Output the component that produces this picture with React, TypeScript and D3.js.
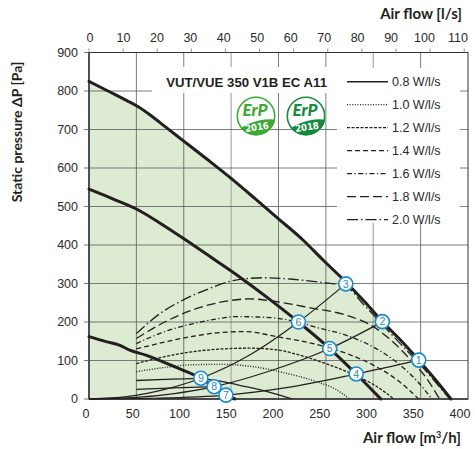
import React from "react";
import * as d3 from "d3";

type Pt = [number, number];

const flowTicks = [0, 50, 100, 150, 200, 250, 300, 350, 400];
const pressureTicks = [0, 100, 200, 300, 400, 500, 600, 700, 800, 900];
const lsTicks = [0, 10, 20, 30, 40, 50, 60, 70, 80, 90, 100, 110];

// fan curves (m3/h, Pa)
const maxCurve: Pt[] = [
  [0, 825], [20, 800], [40, 775], [52, 759], [66, 735], [80, 708], [101, 668],
  [125, 622], [150, 573], [175, 521], [200, 468], [225, 415], [247, 361],
  [271, 304], [290, 255], [310, 200], [330, 150], [348, 101], [365, 52], [382, 0],
];
const midCurve: Pt[] = [
  [0, 545], [25, 520], [52, 491], [73, 460], [101, 415], [133, 361], [160, 315],
  [190, 260], [221, 200], [254, 131], [282, 65], [308, 0],
];
const lowCurve: Pt[] = [
  [0, 162], [18, 149], [32, 140], [43, 127], [60, 114], [90, 84], [118, 54],
  [132, 32], [145, 10], [154, 0],
];

// system curves through the marked points
const systemA: Pt[] = [[0, 0], [40, 6], [80, 25], [118, 54], [170, 115], [221, 200], [271, 299]];
const systemB: Pt[] = [[0, 0], [50, 4], [90, 14], [132, 32], [190, 72], [254, 131], [310, 201]];
const systemC: Pt[] = [[0, 0], [70, 2], [145, 10], [210, 30], [282, 65], [348, 101]];

// specific fan power lines
const sfp08: Pt[] = [[50, 48], [80, 51], [110, 53], [135, 48], [160, 35], [190, 18], [215, 0]];
const sfp08b: Pt[] = [[50, 25], [90, 29], [132, 32]];
const sfp10: Pt[] = [[50, 71], [80, 82], [110, 89], [140, 90], [170, 85], [208, 67], [240, 45], [260, 26], [275, 0]];
const sfp12: Pt[] = [[50, 92], [80, 110], [110, 123], [140, 130], [170, 132], [200, 127], [225, 112], [250, 92], [275, 68], [300, 38], [322, 0]];
const sfp14: Pt[] = [[50, 130], [80, 148], [110, 163], [140, 173], [165, 175], [198, 162], [243, 140], [271, 119], [300, 88], [325, 50], [348, 0]];
const sfp16: Pt[] = [[50, 144], [80, 175], [110, 196], [135, 208], [155, 214], [178, 213], [201, 209], [221, 199], [243, 184], [271, 166], [300, 135], [325, 95], [345, 50], [362, 0]];
const sfp18: Pt[] = [[50, 157], [80, 200], [110, 232], [140, 252], [170, 260], [200, 252], [235, 236], [271, 218], [300, 188], [320, 150], [340, 100], [355, 58], [370, 0]];
const sfp20: Pt[] = [[50, 170], [75, 222], [100, 258], [125, 285], [155, 309], [185, 315], [215, 311], [245, 303], [270, 294], [290, 245], [310, 192], [330, 140], [350, 88], [365, 46], [378, 8], [381, 0]];

const sfpLabels = ["0.8 W/l/s", "1.0 W/l/s", "1.2 W/l/s", "1.4 W/l/s", "1.6 W/l/s", "1.8 W/l/s", "2.0 W/l/s"];
const sfpDashes = [null, "1,1.6", "3,1.5", "5,3", "5,2.5,1.2,2.5", "9,4", "11,3,1.5,3"];
const sfpLines = [sfp08, sfp10, sfp12, sfp14, sfp16, sfp18, sfp20];

const pointIds = [1, 2, 3, 4, 5, 6, 7, 8, 9];
const pointFlow = [348, 309.6, 271, 282, 254, 221, 144.5, 132, 118];
const pointPressure = [101, 201, 299, 65, 131, 200, 10, 32, 54];

const W = 475;
const H = 449;
const x = d3.scaleLinear().domain([0, 400]).range([89, 468]);
const y = d3.scaleLinear().domain([0, 900]).range([399, 52.5]);
const xls = d3.scaleLinear().domain([0, 400 / 3.6]).range([89, 468]);
const xLabel = d3.scaleLinear().domain([0, 400]).range([86, 460]);
const lsLabel = d3.scaleLinear().domain([0, 110]).range([90, 458]);

const FONT = "'Liberation Sans', Arial, sans-serif";
const BOLD = "Lato, 'Open Sans', sans-serif";
const INK = "#231f20";
const BLUE = "#1b8bd0";

const line = d3
  .line<Pt>()
  .x((d) => x(d[0]))
  .y((d) => y(d[1]))
  .curve(d3.curveMonotoneX);

const area = d3
  .area<Pt>()
  .x((d) => x(d[0]))
  .y0(y(0))
  .y1((d) => y(d[1]))
  .curve(d3.curveMonotoneX);

function ErpLogo({ cx, cy, year, color, id }: { cx: number; cy: number; year: string; color: string; id: string }) {
  return (
    <g>
      <clipPath id={id}>
        <circle cx={cx} cy={cy} r={19.5} />
      </clipPath>
      <circle cx={cx} cy={cy} r={19.5} fill="white" />
      <g clipPath={`url(#${id})`}>
        <ellipse cx={cx + 2} cy={cy + 19} rx={28} ry={14} fill={color} transform={`rotate(-12 ${cx} ${cy})`} />
      </g>
      <circle cx={cx} cy={cy} r={18.7} fill="none" stroke={color} strokeWidth={1.6} />
      <text x={cx - 1} y={cy} textAnchor="middle" fontFamily="Lato, sans-serif" fontWeight={900} fontStyle="italic" fontSize={17} fill={color}>
        ErP
      </text>
      <text x={cx + 1} y={cy + 14.5} textAnchor="middle" fontFamily="'Liberation Sans Narrow', 'DejaVu Sans Condensed', sans-serif" fontWeight={700} fontSize={9.5} fill="white" transform={`rotate(-8 ${cx} ${cy + 11})`}>
        {year}
      </text>
    </g>
  );
}

export default function App() {
  return (
    <svg width={W} height={H} style={{ position: "absolute", left: 0, top: 0, background: "white" }}>
      {/* operating area */}
      <path d={area(maxCurve) || ""} fill="#dcebd1" />

      {/* grid */}
      {flowTicks.slice(1, -1).map((v) => (
        <line key={"gx" + v} x1={x(v)} x2={x(v)} y1={y(900)} y2={y(0)} stroke={v === 150 || v === 300 ? "#a9a9a9" : "#5a5a5a"} strokeWidth={v === 150 || v === 300 ? 1.2 : 0.8} />
      ))}
      {pressureTicks.slice(1, -1).map((v) => (
        <line key={"gy" + v} x1={x(0)} x2={x(400)} y1={y(v)} y2={y(v)} stroke="#5a5a5a" strokeWidth={0.8} />
      ))}

      {/* title and legend boxes */}
      <rect x={152} y={67} width={185} height={26} fill="white" />
      <rect x={337} y={68} width={123} height={155} fill="white" />

      {/* frame */}
      <rect x={x(0)} y={y(900)} width={x(400) - x(0)} height={y(0) - y(900)} fill="none" stroke="#333" strokeWidth={1} />
      <line x1={x(0)} x2={x(400)} y1={y(0)} y2={y(0)} stroke="#333" strokeWidth={1.4} />
      <line x1={x(0)} x2={x(0)} y1={y(900)} y2={y(0)} stroke="#333" strokeWidth={1.4} />

      {/* ticks */}
      {pressureTicks.map((v) => (
        <g key={"yt" + v}>
          <line x1={x(0) - 5} x2={x(0)} y1={y(v)} y2={y(v)} stroke="#555" strokeWidth={0.8} />
          <text x={78} y={y(v) + 4} textAnchor="end" fontFamily={FONT} fontSize={12.5} fill="#2a2a2a">
            {v}
          </text>
        </g>
      ))}
      {flowTicks.map((v) => (
        <text key={"xt" + v} x={xLabel(v)} y={418} textAnchor="middle" fontFamily={FONT} fontSize={12.5} fill="#2a2a2a">
          {v}
        </text>
      ))}
      {lsTicks.map((v) => (
        <g key={"lt" + v}>
          <line x1={xls(v)} x2={xls(v)} y1={y(900) - 4} y2={y(900)} stroke="#777" strokeWidth={0.8} />
          <text x={lsLabel(v)} y={42} textAnchor="middle" fontFamily={FONT} fontSize={12.5} fill="#2a2a2a">
            {v}
          </text>
        </g>
      ))}

      {/* axis titles */}
      <text x={462} y={19} textAnchor="end" fontFamily={BOLD} fontWeight={700} fontSize={15} fill={INK}>
        Air flow [l/s]
      </text>
      <text x={461} y={443} textAnchor="end" fontFamily={BOLD} fontWeight={700} fontSize={15} fill={INK}>
        Air flow [m<tspan dy={-5} fontSize={9}>3</tspan><tspan dy={5}>/h]</tspan>
      </text>
      <text transform="translate(22,132) rotate(-90)" textAnchor="middle" fontFamily={BOLD} fontWeight={700} fontSize={14} fill={INK}>
        Static pressure ΔP [Pa]
      </text>

      {/* chart title */}
      <text x={327} y={87} textAnchor="end" fontFamily={FONT} fontWeight={700} fontSize={13.2} fill={INK}>
        VUT/VUE 350 V1B EC A11
      </text>
      <ErpLogo cx={256} cy={116} year="2016" color="#3aa935" id="erp16" />
      <ErpLogo cx={306} cy={116} year="2018" color="#138a3e" id="erp18" />

      {/* SFP lines */}
      <path d={line(sfp08b) || ""} fill="none" stroke={INK} strokeWidth={1.2} />
      {sfpLines.map((pts, i) => (
        <path key={"sfp" + i} d={line(pts) || ""} fill="none" stroke={INK} strokeWidth={i === 1 ? 1.4 : 1.3} strokeDasharray={sfpDashes[i] || undefined} />
      ))}

      {/* system curves */}
      {[systemA, systemB, systemC].map((pts, i) => (
        <path key={"sys" + i} d={line(pts) || ""} fill="none" stroke={INK} strokeWidth={1.2} />
      ))}

      {/* fan curves */}
      {[maxCurve, midCurve, lowCurve].map((pts, i) => (
        <path key={"fan" + i} d={line(pts) || ""} fill="none" stroke={INK} strokeWidth={3} strokeLinecap="round" />
      ))}

      {/* numbered points */}
      {pointIds.map((n, i) => (
        <g key={"pt" + n}>
          <circle cx={x(pointFlow[i])} cy={y(pointPressure[i])} r={7} fill="white" stroke={BLUE} strokeWidth={1.6} />
          <text x={x(pointFlow[i])} y={y(pointPressure[i]) + 3.8} textAnchor="middle" fontFamily={FONT} fontSize={10.5} fill={BLUE}>
            {n}
          </text>
        </g>
      ))}

      {/* legend */}
      {sfpLabels.map((label, i) => (
        <g key={"lg" + i}>
          <line x1={347} x2={388} y1={81.7 + i * 23} y2={81.7 + i * 23} stroke={INK} strokeWidth={i === 0 ? 1.6 : 1.3} strokeDasharray={sfpDashes[i] || undefined} />
          <text x={392} y={86 + i * 23} fontFamily={FONT} fontSize={12.5} fill="#2a2a2a">
            {label}
          </text>
        </g>
      ))}
    </svg>
  );
}
